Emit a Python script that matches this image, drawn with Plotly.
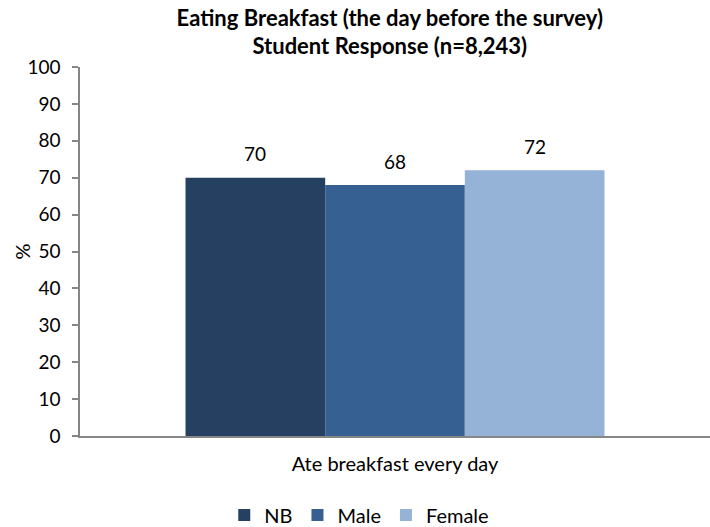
import plotly.graph_objects as go

categories = ["Ate breakfast every day"]
series_names = ["NB", "Male", "Female"]
nb_values = [70]
male_values = [68]
female_values = [72]
colors = ["#264061", "#376092", "#95B3D7"]
y_ticks = [0, 10, 20, 30, 40, 50, 60, 70, 80, 90, 100]

FONT = "Lato, 'Open Sans', sans-serif"
BARGAP = 0.335
PLOT_W = 630

fig = go.Figure()
all_values = [nb_values, male_values, female_values]
for name, vals, col in zip(series_names, all_values, colors):
    fig.add_trace(go.Bar(
        x=categories, y=vals, name=name, marker=dict(color=col, line=dict(width=0)),
    ))

# data labels above bars
bar_w = PLOT_W * (1 - BARGAP) / len(series_names)
for i, vals in enumerate(all_values):
    for cat, v in zip(categories, vals):
        fig.add_annotation(
            x=cat, y=v, text=str(v), showarrow=False,
            xshift=(i - 1) * bar_w, yshift=24, yanchor="middle",
            font=dict(size=19, color="#000000", family=FONT),
        )

# y-axis title
fig.add_annotation(
    text="%", xref="paper", yref="paper", x=0, y=0.5, xshift=-59,
    xanchor="center", yanchor="middle",
    textangle=-90, showarrow=False, font=dict(size=20, color="#000000", family=FONT),
)

fig.update_layout(
    width=710, height=527,
    margin=dict(l=80, r=0, t=67, b=91, pad=0),
    paper_bgcolor="white", plot_bgcolor="white",
    barmode="group", bargap=BARGAP, bargroupgap=0,
    font=dict(family=FONT, size=19, color="#000000"),
    title=dict(text="<b>Eating Breakfast (the day before the survey)<br>Student Response (n=8,243)</b>",
               xref="container", x=0.549, xanchor="center", yref="container", y=0.951, yanchor="top",
               font=dict(size=22, family=FONT)),
    showlegend=True,
    legend=dict(orientation="h", xref="container", x=0.506, xanchor="center",
                yref="container", y=0.023, yanchor="middle",
                font=dict(size=20, family=FONT), traceorder="normal"),
    yaxis=dict(range=[0, 100], tickvals=y_ticks, showgrid=False, showline=True,
               linecolor="#868686", linewidth=1.5, ticks="outside", ticklen=6, tickcolor="#868686",
               tickwidth=1.5, ticklabelstandoff=8, zeroline=False,
               tickfont=dict(size=19)),
    xaxis=dict(showline=True, linecolor="#868686", linewidth=2, ticks="", showgrid=False,
               tickfont=dict(size=20), ticklabelstandoff=9),
)

fig.write_html("out.html", config={"displayModeBar": False},
               post_script="document.body.style.margin='0';")
